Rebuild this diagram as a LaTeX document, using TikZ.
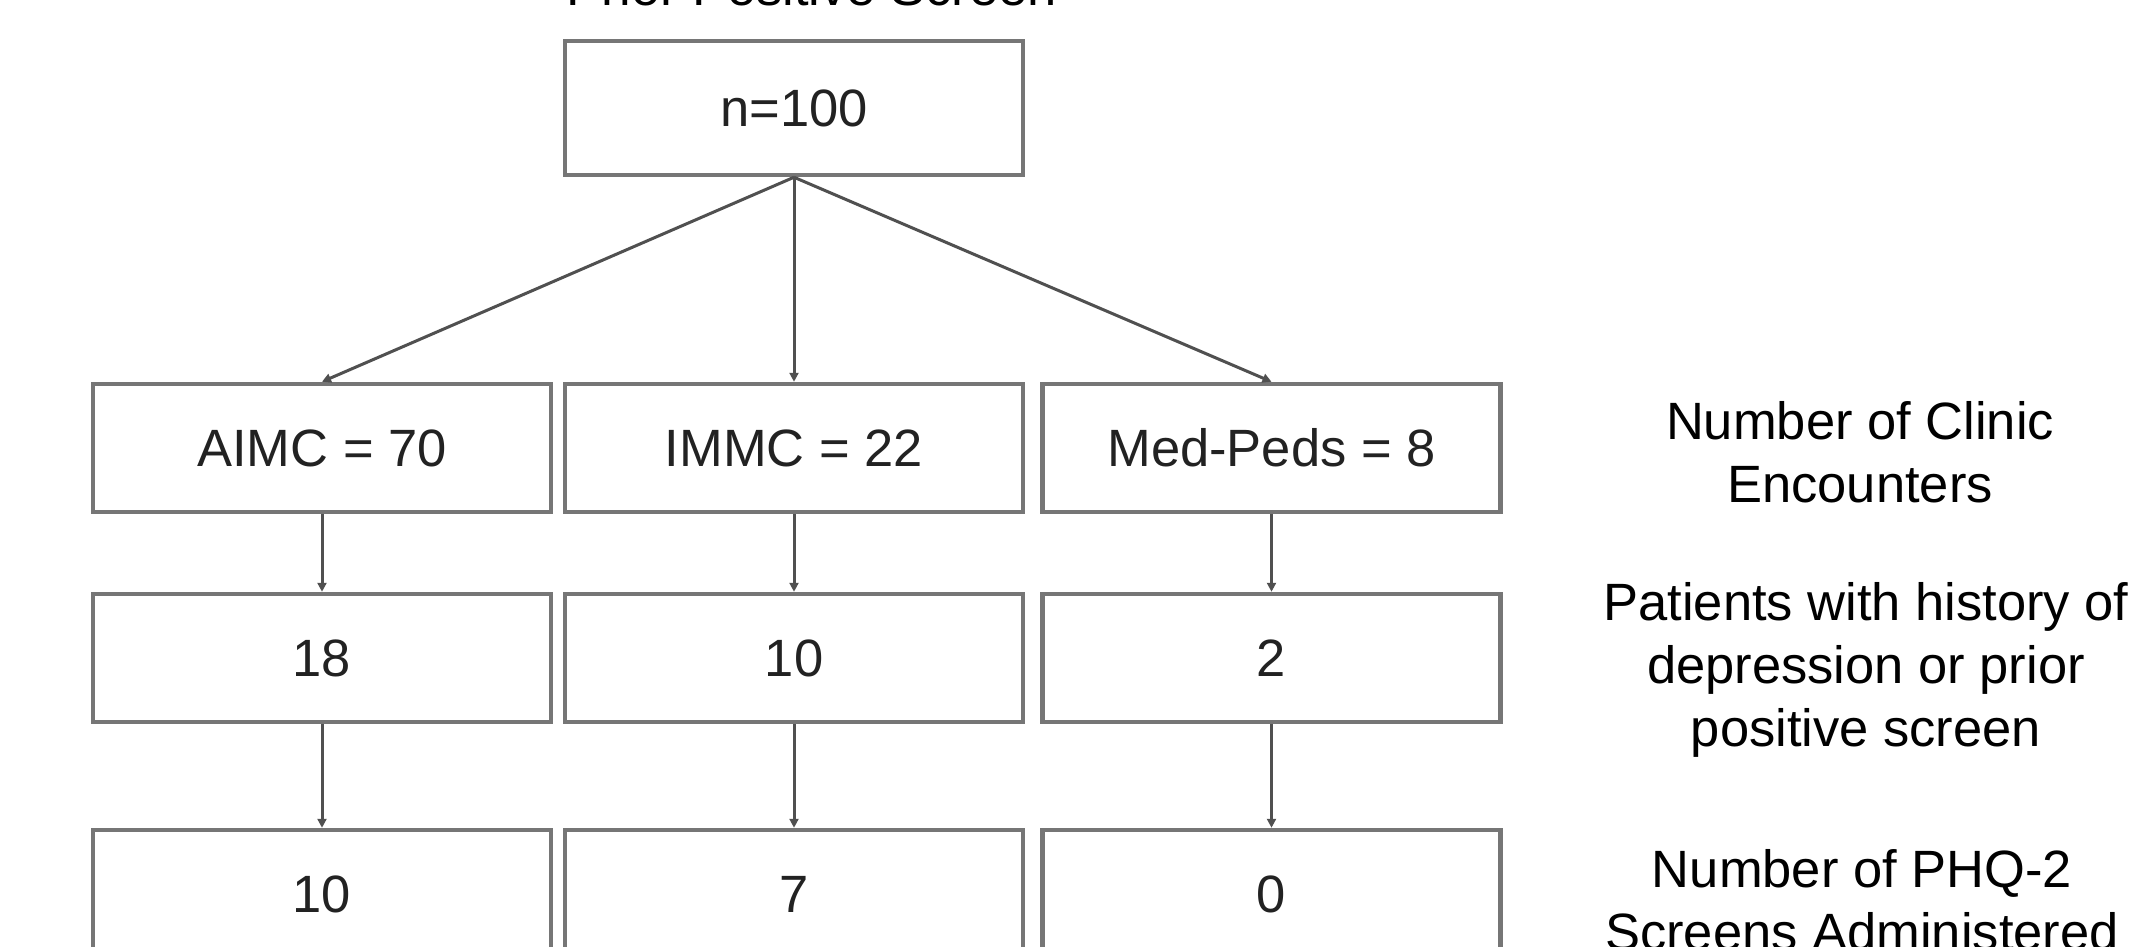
\documentclass[tikz,border=0pt]{standalone}
\usepackage{fontspec}
\setmainfont{Liberation Sans}
\usetikzlibrary{arrows.meta}
\definecolor{boxgray}{HTML}{767676}
\definecolor{linegray}{HTML}{505050}
\definecolor{txtgray}{HTML}{222222}
\begin{document}
\begin{tikzpicture}[x=1pt,y=-1pt,
  box/.style={draw=boxgray, line width=4.5pt, minimum width=458pt, minimum height=128pt,
    inner sep=0pt, text=txtgray, font=\fontsize{52.5}{63}\selectfont},
  lbl/.style={align=center, text=black, inner sep=0pt, font=\fontsize{52.5}{63}\selectfont},
  conn/.style={draw=linegray, line width=3pt, -{Triangle[length=9pt,width=9pt]}}]
\clip (0,0) rectangle (2145,947);
\fill[white] (0,0) rectangle (2145,947);
% title (only its lower part shows)
\node[lbl, anchor=base] (title) at (812,6) {Prior Positive Screen};
% top box
\node[box, minimum height=134pt] (top) at (794,108) {n=100};
% row 1
\node[box] (a1) at (322,448) {AIMC = 70};
\node[box] (b1) at (794,448) {IMMC = 22};
\node[box] (c1) at (1271.5,448) {Med-Peds = 8};
% row 2
\node[box] (a2) at (322,658) {18};
\node[box] (b2) at (794,658) {10};
\node[box] (c2) at (1271.5,658) {2};
% row 3
\node[box] (a3) at (322,894) {10};
\node[box] (b3) at (794,894) {7};
\node[box] (c3) at (1271.5,894) {0};
% side labels
\node[lbl] (l1) at (1860,452) {Number of Clinic\\Encounters};
\node[lbl] (l2) at (1866,670) {Patients with history of\\depression or prior\\positive screen};
\node[lbl] (l3) at (1862,900) {Number of PHQ-2\\Screens Administered};
% connectors
\draw[conn] (top.south) -- (a1.north);
\draw[conn] (top.south) -- (b1.north);
\draw[conn] (top.south) -- (c1.north);
\draw[conn] (a1.south) -- (a2.north);
\draw[conn] (b1.south) -- (b2.north);
\draw[conn] (c1.south) -- (c2.north);
\draw[conn] (a2.south) -- (a3.north);
\draw[conn] (b2.south) -- (b3.north);
\draw[conn] (c2.south) -- (c3.north);
\end{tikzpicture}
\end{document}
